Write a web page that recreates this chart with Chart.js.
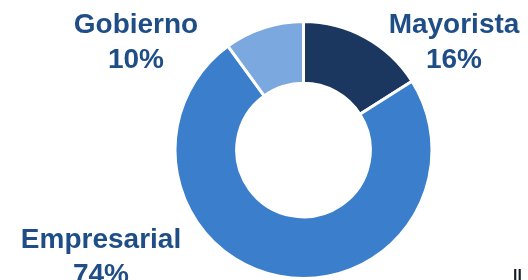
<!DOCTYPE html>
<html lang="es">
<head>
<meta charset="utf-8">
<script src="https://cdn.jsdelivr.net/npm/chart.js@4"></script>
<style>
  html, body { margin: 0; padding: 0; background: #ffffff; }
  #wrap { width: 528px; height: 280px; position: relative; }
</style>
</head>
<body>
<div id="wrap"><canvas id="segChart" width="528" height="280"></canvas></div>
<script>
// -------- Data --------
const segments = ['Mayorista', 'Empresarial', 'Gobierno'];
const shares = [16, 74, 10];
const segColors = ['#1b375f', '#3a7ecc', '#7ba8de'];

// label anchors (centre of the two-line text block, first baseline)
const labelAnchors = [
  { x: 454, y: 33 },
  { x: 101, y: 248 },
  { x: 136, y: 33 }
];

const outsideLabels = {
  id: 'outsideLabels',
  afterDraw(chart) {
    const ctx = chart.ctx;
    ctx.save();
    ctx.font = 'bold 28px "Liberation Sans", Arial, sans-serif';
    ctx.fillStyle = '#1f4e87';
    ctx.textAlign = 'center';
    ctx.textBaseline = 'alphabetic';
    segments.forEach((name, i) => {
      const a = labelAnchors[i];
      ctx.fillText(name, a.x, a.y);
      ctx.fillText(shares[i] + '%', a.x, a.y + 35);
    });
    // clipped fragment of a neighbouring text at the bottom right
    ctx.fillStyle = '#161c26';
    ctx.font = 'bold 16px "Liberation Sans", Arial, sans-serif';
    ctx.textAlign = 'left';
    ctx.fillText('ll', 513, 281);
    ctx.restore();
  }
};

new Chart(document.getElementById('segChart'), {
  type: 'doughnut',
  data: {
    labels: segments,
    datasets: [{
      data: shares,
      backgroundColor: segColors,
      borderColor: '#ffffff',
      borderWidth: 3,
      hoverOffset: 0
    }]
  },
  options: {
    responsive: false,
    animation: false,
    cutout: '52%',
    layout: { padding: { left: 173, right: 94, top: 20, bottom: -1 } },
    plugins: {
      legend: { display: false },
      tooltip: { enabled: false }
    }
  },
  plugins: [outsideLabels]
});
</script>
</body>
</html>
